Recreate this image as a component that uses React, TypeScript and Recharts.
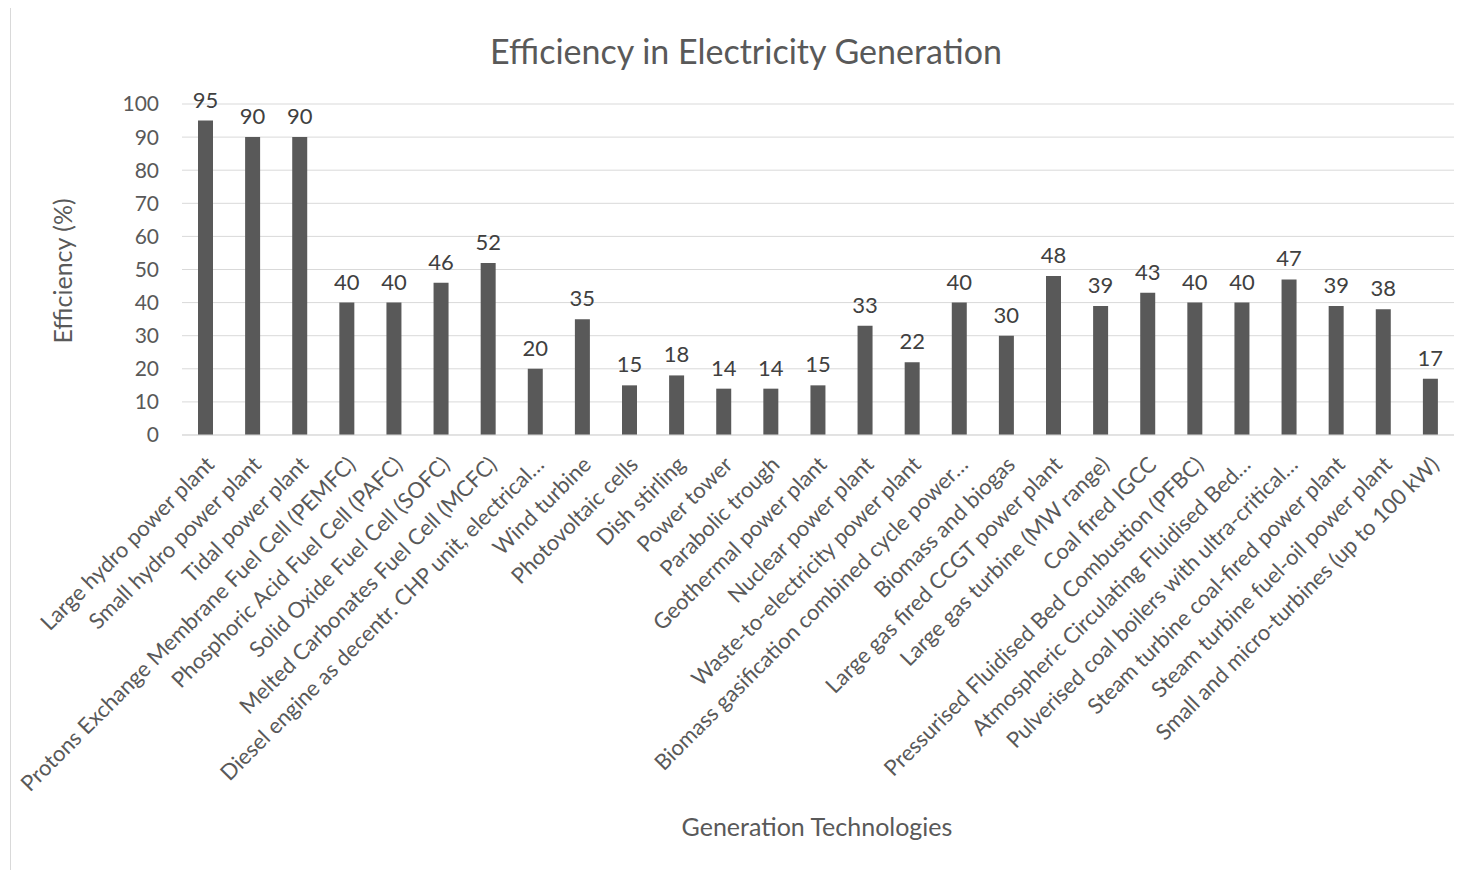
import React from "react";
import { BarChart, Bar, XAxis, YAxis, CartesianGrid, LabelList } from "recharts";

const technologies: string[] = [
  "Large hydro power plant",
  "Small hydro power plant",
  "Tidal power plant",
  "Protons Exchange Membrane Fuel Cell (PEMFC)",
  "Phosphoric Acid Fuel Cell (PAFC)",
  "Solid Oxide Fuel Cell (SOFC)",
  "Melted Carbonates Fuel Cell (MCFC)",
  "Diesel engine as decentr. CHP unit, electrical…",
  "Wind turbine",
  "Photovoltaic cells",
  "Dish stirling",
  "Power tower",
  "Parabolic trough",
  "Geothermal power plant",
  "Nuclear power plant",
  "Waste-to-electricity power plant",
  "Biomass gasification combined cycle power…",
  "Biomass and biogas",
  "Large gas fired CCGT power plant",
  "Large gas turbine (MW range)",
  "Coal fired IGCC",
  "Pressurised Fluidised Bed Combustion (PFBC)",
  "Atmospheric Circulating Fluidised Bed…",
  "Pulverised coal boilers with ultra-critical…",
  "Steam turbine coal-fired power plant",
  "Steam turbine fuel-oil power plant",
  "Small and micro-turbines (up to 100 kW)",
];

const efficiency: number[] = [
  95, 90, 90, 40, 40, 46, 52, 20, 35, 15, 18, 14, 14, 15, 33, 22, 40, 30, 48, 39, 43, 40, 40, 47, 39, 38, 17,
];

const yTicks: number[] = [0, 10, 20, 30, 40, 50, 60, 70, 80, 90, 100];

const data = technologies.map((name, i) => ({ name, value: efficiency[i] }));

const FONT = "Lato, 'Open Sans', sans-serif";
const TEXT = "#595959";

const RotatedTick = (props: any) => {
  const { x, y, payload } = props;
  return (
    <g transform={`translate(${x + 4},${y + 17})`}>
      <text
        transform="rotate(-45)"
        textAnchor="end"
        dominantBaseline="central"
        fill={TEXT}
        fontSize={22}
        fontFamily={FONT}
      >
        {payload.value}
      </text>
    </g>
  );
};

export default function App() {
  return (
    <div
      style={{
        position: "relative",
        width: 1456,
        height: 864,
        marginLeft: 2,
        marginTop: -2,
        borderLeft: "1px solid #d9d9d9",
        borderTop: "1px solid #d9d9d9",
        fontFamily: FONT,
      }}
    >
      <BarChart
        width={1456}
        height={864}
        data={data}
        margin={{ top: 97, right: 13, bottom: 36, left: 121 }}
        barCategoryGap="34%"
      >
        <CartesianGrid vertical={false} stroke="#d9d9d9" strokeWidth={1} />
        <XAxis
          dataKey="name"
          interval={0}
          tick={<RotatedTick />}
          tickLine={false}
          axisLine={{ stroke: "#d9d9d9" }}
          height={400}
        />
        <YAxis
          domain={[0, 100]}
          ticks={yTicks}
          interval={0}
          width={50}
          tickLine={false}
          axisLine={false}
          tickMargin={17}
          tick={{ fill: TEXT, fontSize: 21, fontFamily: FONT }}
        />
        <Bar dataKey="value" fill="#595959" isAnimationActive={false} barSize={15}>
          <LabelList
            dataKey="value"
            position="top"
            offset={13}
            fill="#404040"
            fontSize={22}
            fontFamily={FONT}
          />
        </Bar>
      </BarChart>
      <svg
        width={1456}
        height={864}
        style={{ position: "absolute", left: 0, top: 0, pointerEvents: "none" }}
      >
        <text x={735} y={43} textAnchor="middle" dominantBaseline="central" fill={TEXT} fontSize={34} fontFamily={FONT}>
          Efficiency in Electricity Generation
        </text>
        <text
          transform="translate(51,264) rotate(-90)"
          textAnchor="middle"
          dominantBaseline="central"
          fill={TEXT}
          fontSize={25}
          fontFamily={FONT}
        >
          Efficiency (%)
        </text>
        <text x={806} y={819} textAnchor="middle" dominantBaseline="central" fill={TEXT} fontSize={25} fontFamily={FONT}>
          Generation Technologies
        </text>
      </svg>
    </div>
  );
}
